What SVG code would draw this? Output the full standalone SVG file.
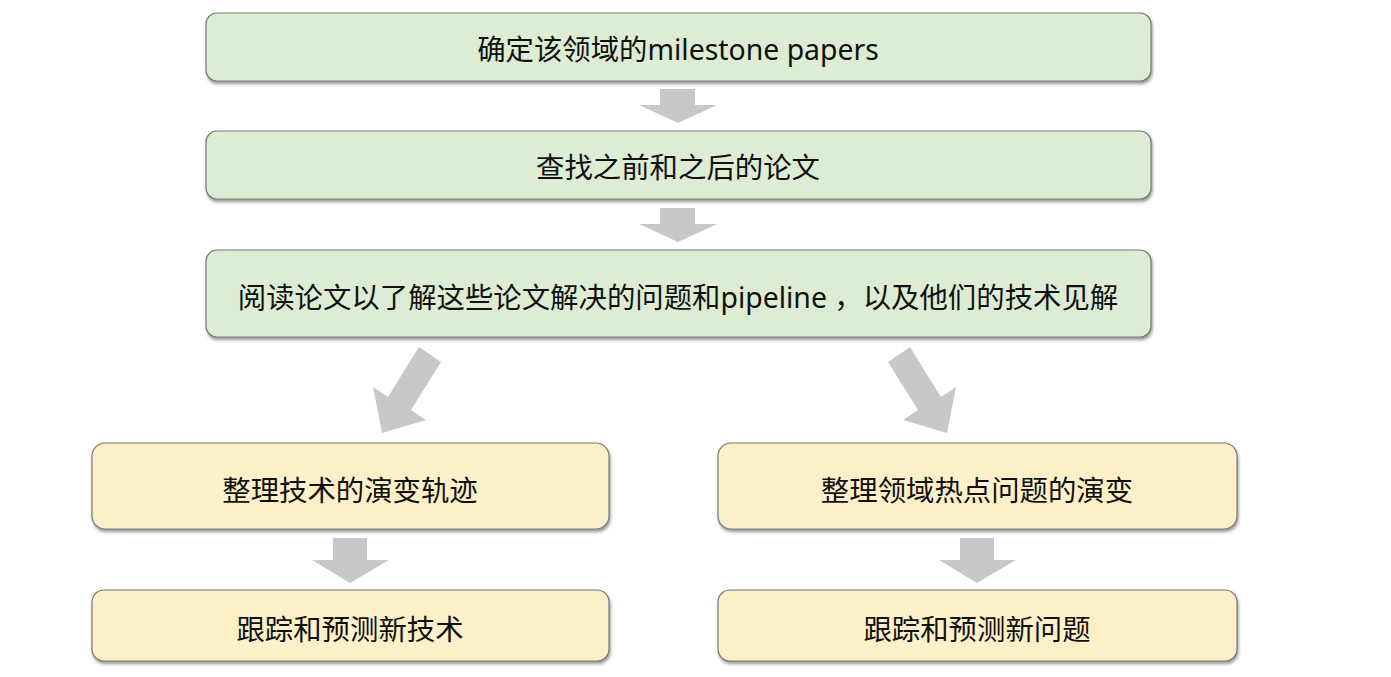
<svg xmlns="http://www.w3.org/2000/svg" width="1391" height="677" viewBox="0 0 1391 677">
<style>
.g{fill:#ddedd4;stroke:#7a7a7a;stroke-width:1.2}
.y{fill:#fdf0c8;stroke:#7a7a7a;stroke-width:1.2}
.t{font-family:"Noto Sans","Noto Sans CJK SC",sans-serif;font-size:28.4px;fill:#111111;text-anchor:middle}
.a{fill:#c8c8c8}
</style>
<defs>
<filter id="sh" x="-5%" y="-20%" width="110%" height="150%">
<feDropShadow dx="1" dy="2.5" stdDeviation="1.5" flood-color="#444" flood-opacity="0.55"/>
</filter>
</defs>
<rect width="1391" height="677" fill="#ffffff"/>
<g id="connectors">
<polygon class="a" points="660,89 695,89 695,105 717,105 678,123 639,105 660,105"/>
<polygon class="a" points="660,208 695,208 695,224 717,224 678,242 639,224 660,224"/>
<polygon class="a" points="419,347 441,362 411,410 426,420 382,433 373,387 388,397"/>
<polygon class="a" points="910,347 888,362 918,410 903,420 947,433 956,387 941,397"/>
<polygon class="a" points="333,538 367,538 367,560 389,560 350,583 312,560 333,560"/>
<polygon class="a" points="960,538 994,538 994,560 1016,560 977,583 939,560 960,560"/>
</g>
<g id="n1"><rect class="g" filter="url(#sh)" x="206" y="13" width="945" height="68" rx="11"/><text class="t" x="678" y="60">确定该领域的milestone papers</text></g>
<g id="n2"><rect class="g" filter="url(#sh)" x="206" y="131" width="945" height="68" rx="11"/><text class="t" x="678" y="178">查找之前和之后的论文</text></g>
<g id="n3"><rect class="g" filter="url(#sh)" x="206" y="250" width="945" height="87" rx="11"/><text class="t" x="678" y="308">阅读论文以了解这些论文解决的问题和pipeline ，以及他们的技术见解</text></g>
<g id="n4"><rect class="y" filter="url(#sh)" x="92" y="443" width="517" height="86" rx="13"/><text class="t" x="350" y="501">整理技术的演变轨迹</text></g>
<g id="n5"><rect class="y" filter="url(#sh)" x="718" y="443" width="519" height="86" rx="13"/><text class="t" x="977" y="501">整理领域热点问题的演变</text></g>
<g id="n6"><rect class="y" filter="url(#sh)" x="92" y="590" width="517" height="71" rx="12"/><text class="t" x="350" y="640">跟踪和预测新技术</text></g>
<g id="n7"><rect class="y" filter="url(#sh)" x="718" y="590" width="519" height="71" rx="12"/><text class="t" x="977" y="640">跟踪和预测新问题</text></g>
</svg>
